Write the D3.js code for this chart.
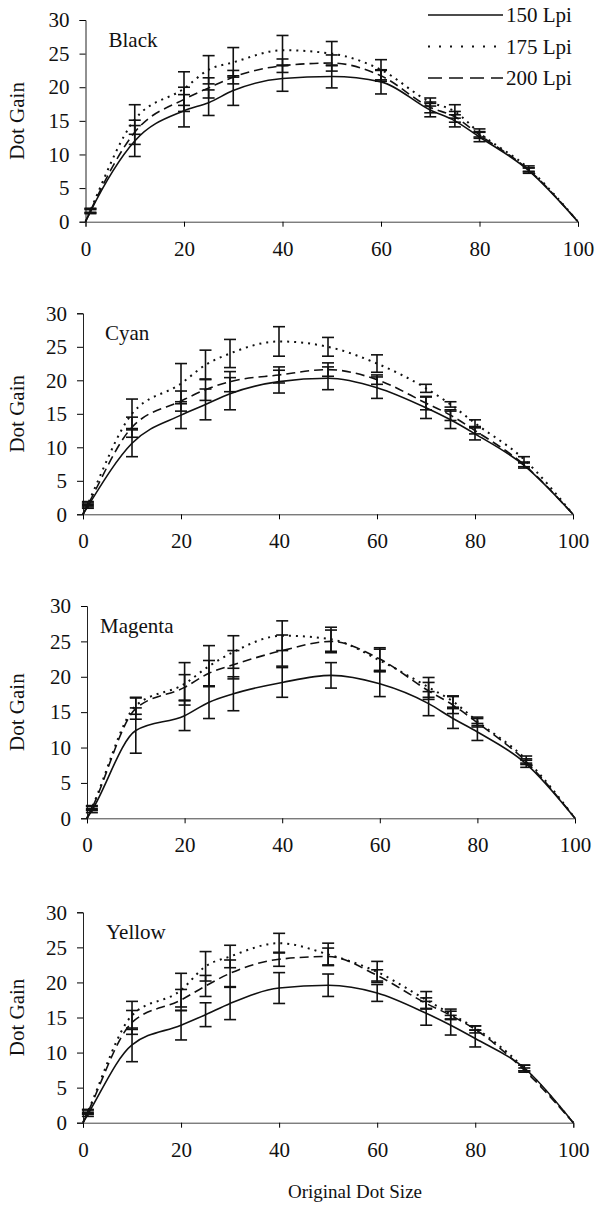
<!DOCTYPE html>
<html>
<head>
<meta charset="utf-8">
<script src="https://cdn.jsdelivr.net/npm/d3@7"></script>
<style>
  body { margin: 0; background: #fff; }
  svg text { font-family: "Liberation Serif", "Times New Roman", serif; fill: #111; }
</style>
</head>
<body>
<div id="chart"></div>
<script>
// x positions of the measured patches
const dotSizes = [0, 1, 10, 20, 25, 30, 40, 50, 60, 70, 75, 80, 90, 100];
const inks = ['Black', 'Cyan', 'Magenta', 'Yellow'];
const screens = ['150 Lpi', '175 Lpi', '200 Lpi'];
const xTicks = [0, 20, 40, 60, 80, 100];
const yTicks = [0, 5, 10, 15, 20, 25, 30];

// dot gain per ink and screen ruling
const black150 = [0, 1.5, 12.0, 16.5, 17.7, 19.5, 21.3, 21.6, 20.8, 16.6, 15.0, 12.6, 7.6, 0];
const black175 = [0, 1.7, 15.2, 19.8, 22.6, 23.7, 25.5, 25.0, 22.6, 17.8, 16.4, 13.2, 7.9, 0];
const black200 = [0, 1.6, 13.3, 18.2, 19.9, 21.5, 23.2, 23.6, 21.7, 17.0, 15.6, 12.9, 7.7, 0];
const cyan150 = [0, 1.2, 10.6, 14.8, 16.4, 18.0, 19.8, 20.3, 18.9, 15.9, 14.1, 12.0, 7.3, 0];
const cyan175 = [0, 1.6, 15.0, 19.5, 22.3, 24.0, 25.8, 25.0, 22.5, 18.8, 16.4, 13.6, 8.2, 0];
const cyan200 = [0, 1.4, 13.0, 16.9, 18.6, 19.8, 20.8, 21.6, 20.1, 16.6, 14.8, 12.5, 7.4, 0];
const magenta150 = [0, 1.1, 12.4, 14.5, 16.4, 17.6, 19.2, 20.2, 19.0, 16.2, 14.1, 12.2, 7.7, 0];
const magenta175 = [0, 1.5, 15.9, 19.0, 21.5, 23.5, 25.8, 25.3, 22.3, 18.5, 16.5, 13.7, 8.3, 0];
const magenta200 = [0, 1.4, 15.5, 18.5, 20.5, 21.7, 23.7, 25.0, 22.5, 18.0, 16.0, 13.5, 8.0, 0];
const yellow150 = [0, 1.2, 11.1, 13.9, 15.4, 17.0, 19.2, 19.6, 18.5, 15.6, 13.9, 12.0, 7.8, 0];
const yellow175 = [0, 1.6, 15.3, 18.9, 22.3, 23.7, 25.6, 24.0, 21.5, 17.5, 15.5, 13.5, 7.8, 0];
const yellow200 = [0, 1.5, 14.3, 17.5, 19.5, 21.3, 23.3, 23.7, 21.0, 17.0, 15.3, 13.3, 7.5, 0];

// error bar half-lengths
const black150Err = [0, 0.3, 2.3, 2.4, 1.9, 2.2, 1.9, 1.7, 1.8, 1.0, 0.9, 0.7, 0.4, 0];
const black175Err = [0, 0.3, 2.2, 2.5, 2.1, 2.2, 2.2, 1.8, 1.5, 0.6, 1.0, 0.6, 0.4, 0];
const black200Err = [0, 0.3, 1.8, 1.8, 1.5, 1.0, 1.0, 1.2, 0.8, 0.8, 0.8, 0.5, 0.3, 0];
const cyan150Err = [0, 0.3, 2.0, 2.0, 2.3, 2.4, 1.7, 1.7, 1.6, 1.6, 1.3, 0.9, 0.4, 0];
const cyan175Err = [0, 0.3, 2.2, 3.0, 2.2, 2.1, 2.2, 1.4, 1.3, 0.6, 0.4, 0.5, 0.4, 0];
const cyan200Err = [0, 0.3, 1.5, 1.5, 1.6, 1.5, 1.2, 1.0, 0.7, 1.0, 0.8, 0.5, 0.3, 0];
const magenta150Err = [0, 0.3, 3.2, 2.1, 2.3, 2.4, 2.1, 1.8, 1.8, 1.7, 1.4, 1.2, 0.5, 0];
const magenta175Err = [0, 0.3, 1.2, 3.0, 2.9, 2.3, 2.1, 1.7, 1.6, 1.4, 0.8, 0.6, 0.5, 0];
const magenta200Err = [0, 0.3, 1.5, 1.8, 1.8, 2.0, 2.2, 1.6, 1.6, 1.2, 1.2, 0.6, 0.4, 0];
const yellow150Err = [0, 0.3, 2.4, 2.1, 1.7, 2.3, 2.2, 1.6, 1.2, 1.7, 1.4, 1.2, 0.4, 0];
const yellow175Err = [0, 0.3, 2.0, 2.4, 2.1, 1.6, 1.4, 1.6, 1.5, 1.2, 0.7, 0.3, 0.4, 0];
const yellow200Err = [0, 0.3, 1.7, 1.5, 1.5, 1.9, 1.0, 1.2, 0.8, 0.8, 0.6, 0.5, 0.3, 0];

const gainByInk = {
  Black: [black150, black175, black200],
  Cyan: [cyan150, cyan175, cyan200],
  Magenta: [magenta150, magenta175, magenta200],
  Yellow: [yellow150, yellow175, yellow200],
};
const errByInk = {
  Black: [black150Err, black175Err, black200Err],
  Cyan: [cyan150Err, cyan175Err, cyan200Err],
  Magenta: [magenta150Err, magenta175Err, magenta200Err],
  Yellow: [yellow150Err, yellow175Err, yellow200Err],
};

// layout of each panel on the page (scanned figure, so they differ a bit)
const frames = [
  { left: 85.5, right: 578, top: 20, bottom: 221.7, labelDx: 23 },
  { left: 83, right: 573, top: 313.3, bottom: 514.3, labelDx: 22 },
  { left: 87, right: 575, top: 606, bottom: 818.3, labelDx: 13 },
  { left: 83, right: 573.3, top: 912.3, bottom: 1122.7, labelDx: 23 },
];
const dashes = [null, '2,5', '9,5'];
const serif = '"Liberation Serif", "Times New Roman", serif';
const width = 598, height = 1206;

const svg = d3.select('#chart').append('svg')
    .attr('width', width)
    .attr('height', height);

inks.forEach((ink, i) => {
  const f = frames[i];
  const x = d3.scaleLinear().domain([0, 100]).range([f.left, f.right]);
  const y = d3.scaleLinear().domain([0, 30]).range([f.bottom, f.top]);
  const g = svg.append('g');

  // axes
  const xAxis = d3.axisBottom(x).tickValues(xTicks).tickSize(5).tickPadding(14);
  const yAxis = d3.axisLeft(y).tickValues(yTicks).tickSize(6).tickPadding(10);
  g.append('g')
      .attr('transform', `translate(0,${f.bottom})`)
      .call(xAxis)
      .call(a => a.select('.domain').attr('stroke', '#444'));
  g.append('g')
      .attr('transform', `translate(${f.left},0)`)
      .call(yAxis)
      .call(a => a.select('.domain').attr('stroke', '#222'));
  g.selectAll('g')
      .attr('font-family', serif)
      .attr('font-size', 21);
  g.selectAll('.tick text')
      .style('font-family', serif)
      .style('font-size', '21px')
      .attr('fill', '#111');

  g.append('text')
      .attr('transform', `translate(24,${(f.top + f.bottom) / 2}) rotate(-90)`)
      .attr('text-anchor', 'middle')
      .style('font-size', '21px')
      .text('Dot Gain');

  g.append('text')
      .attr('x', f.left + f.labelDx)
      .attr('y', f.top + 27)
      .style('font-size', '21px')
      .text(ink);

  const line = d3.line()
      .x(d => x(d.size))
      .y(d => y(d.gain))
      .curve(d3.curveMonotoneX);

  screens.forEach((s, j) => {
    const pts = dotSizes.map((size, k) => ({
      size: size,
      gain: gainByInk[ink][j][k],
      err: errByInk[ink][j][k],
    }));

    g.append('path')
        .datum(pts)
        .attr('d', line)
        .attr('fill', 'none')
        .attr('stroke', '#111')
        .attr('stroke-width', j === 1 ? 2 : 1.6)
        .attr('stroke-dasharray', dashes[j]);

    // error bars
    const bars = g.append('g')
        .selectAll('g')
        .data(pts.filter(d => d.err > 0))
        .join('g')
        .attr('stroke', '#111')
        .attr('stroke-width', 1.6);
    bars.append('line')
        .attr('x1', d => x(d.size)).attr('x2', d => x(d.size))
        .attr('y1', d => y(d.gain - d.err)).attr('y2', d => y(d.gain + d.err));
    bars.append('line')
        .attr('x1', d => x(d.size) - 6).attr('x2', d => x(d.size) + 6)
        .attr('y1', d => y(d.gain + d.err)).attr('y2', d => y(d.gain + d.err));
    bars.append('line')
        .attr('x1', d => x(d.size) - 6).attr('x2', d => x(d.size) + 6)
        .attr('y1', d => y(d.gain - d.err)).attr('y2', d => y(d.gain - d.err));
  });
});

// legend
const legend = svg.append('g')
    .selectAll('g')
    .data(screens)
    .join('g')
    .attr('transform', (d, j) => `translate(428,${15 + j * 31.5})`);
legend.append('line')
    .attr('x1', 0).attr('x2', 75)
    .attr('stroke', '#111')
    .attr('stroke-width', (d, j) => j === 1 ? 2 : 1.6)
    .attr('stroke-dasharray', (d, j) => j === 2 ? '14,7' : j === 1 ? '2,9' : null);
legend.append('text')
    .attr('x', 78)
    .attr('y', 7)
    .style('font-size', '21px')
    .text(d => d);

svg.append('text')
    .attr('x', 355)
    .attr('y', 1198)
    .attr('text-anchor', 'middle')
    .style('font-size', '19px')
    .text('Original Dot Size');
</script>
</body>
</html>
